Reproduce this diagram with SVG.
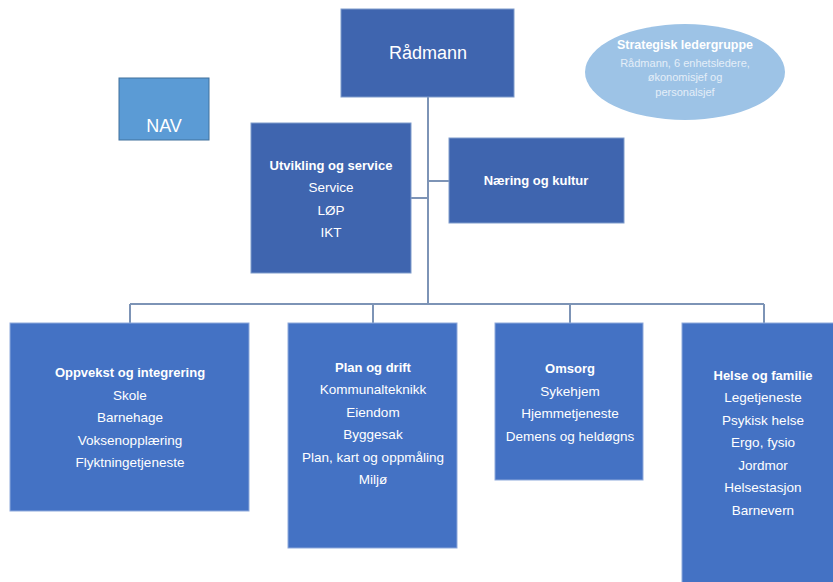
<svg xmlns="http://www.w3.org/2000/svg" width="833" height="582" viewBox="0 0 833 582">
<style>
.dark{fill:#3F65AF;stroke:#7F9CCB;stroke-width:1}
.box{fill:#4472C4;stroke:#8EA9DB;stroke-width:1}
.nav{fill:#5B9BD5;stroke:#41719C;stroke-width:1}
.t{font-family:"Liberation Sans",Arial,sans-serif;fill:#FFFFFF;text-anchor:middle;font-size:13.5px}
.b{font-weight:bold;font-size:13px}
.conn{stroke:#7D94B6;stroke-width:2;fill:none}
</style>
<rect width="833" height="582" fill="#FFFFFF"/>
<g id="connectors">
<path class="conn" d="M428,97 V304 M130,304 H764 M130,304 V323 M373,304 V323 M570,304 V323 M764,304 V323 M411,198 H428 M428,181 H449"/>
</g>
<g id="radmann">
<rect class="dark" x="341" y="9" width="173" height="88"/>
<text class="t" x="428" y="59" style="font-size:18px">Rådmann</text>
</g>
<g id="strategisk">
<ellipse cx="685" cy="72" rx="100" ry="48" fill="#9DC3E6"/>
<text class="t b" x="685" y="49" style="font-size:12.5px">Strategisk ledergruppe</text>
<text class="t" x="685" y="67" style="font-size:11px;fill:#E4EEF8">Rådmann, 6 enhetsledere,</text>
<text class="t" x="685" y="81" style="font-size:11px;fill:#E4EEF8">økonomisjef og</text>
<text class="t" x="685" y="96" style="font-size:11px;fill:#E4EEF8">personalsjef</text>
</g>
<g id="nav">
<rect class="nav" x="119" y="78" width="90" height="62"/>
<text class="t" x="164" y="132" style="font-size:18px">NAV</text>
</g>
<g id="utvikling">
<rect class="dark" x="251" y="123" width="160" height="150"/>
<text class="t b" x="331" y="170">Utvikling og service</text>
<text class="t" x="331" y="192">Service</text>
<text class="t" x="331" y="215">LØP</text>
<text class="t" x="331" y="237">IKT</text>
</g>
<g id="naering">
<rect class="dark" x="449" y="138" width="175" height="85"/>
<text class="t b" x="536" y="185">Næring og kultur</text>
</g>
<g id="oppvekst">
<rect class="box" x="10" y="323" width="239" height="188"/>
<text class="t b" x="130" y="377">Oppvekst og integrering</text>
<text class="t" x="130" y="400">Skole</text>
<text class="t" x="130" y="422">Barnehage</text>
<text class="t" x="130" y="445">Voksenopplæring</text>
<text class="t" x="130" y="467">Flyktningetjeneste</text>
</g>
<g id="plan">
<rect class="box" x="288" y="323" width="169" height="225"/>
<text class="t b" x="373" y="372">Plan og drift</text>
<text class="t" x="373" y="394">Kommunalteknikk</text>
<text class="t" x="373" y="417">Eiendom</text>
<text class="t" x="373" y="439">Byggesak</text>
<text class="t" x="373" y="462">Plan, kart og oppmåling</text>
<text class="t" x="373" y="484">Miljø</text>
</g>
<g id="omsorg">
<rect class="box" x="495" y="323" width="148" height="157"/>
<text class="t b" x="570" y="373">Omsorg</text>
<text class="t" x="570" y="396">Sykehjem</text>
<text class="t" x="570" y="418">Hjemmetjeneste</text>
<text class="t" x="570" y="441">Demens og heldøgns</text>
</g>
<g id="helse">
<rect class="box" x="682" y="323" width="160" height="270"/>
<text class="t b" x="763" y="380">Helse og familie</text>
<text class="t" x="763" y="402">Legetjeneste</text>
<text class="t" x="763" y="425">Psykisk helse</text>
<text class="t" x="763" y="447">Ergo, fysio</text>
<text class="t" x="763" y="470">Jordmor</text>
<text class="t" x="763" y="492">Helsestasjon</text>
<text class="t" x="763" y="515">Barnevern</text>
</g>
</svg>
